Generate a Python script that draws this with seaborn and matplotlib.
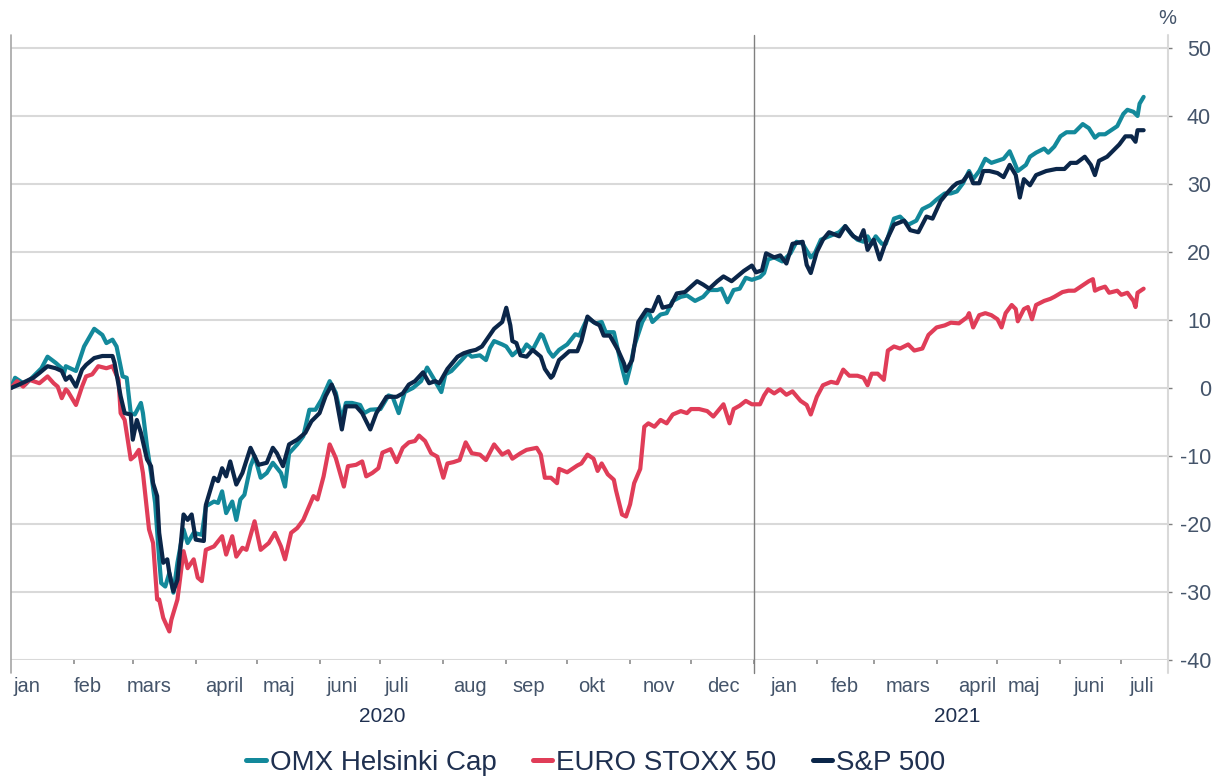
import pandas as pd
import matplotlib.pyplot as plt
from matplotlib.lines import Line2D
import seaborn as sns

# index change in %; x = days since 2020-01-01
start = pd.Timestamp("2020-01-01")

omx_days = [0, 2, 7, 11, 15, 18, 22, 25, 26, 27, 32, 36, 41, 45, 47, 50, 52, 55, 57, 59, 61, 64, 65, 67, 69, 71, 73, 74, 76, 78, 80, 82, 85, 87,
            90, 94, 96, 100, 102, 104, 106, 109, 111, 113, 115, 118, 120, 123, 126, 129, 133, 135, 137, 141, 144, 147, 150, 153, 157, 160, 163, 165, 168, 172, 174, 177,
            182, 186, 188, 191, 194, 198, 202, 205, 208, 212, 214, 217, 222, 225, 227, 231, 234, 236, 238, 242, 244, 247, 250, 252, 254, 257, 261, 262, 265, 267, 270, 274,
            278, 280, 284, 288, 291, 293, 297, 299, 301, 303, 305, 307, 311, 314, 316, 320, 323, 326, 330, 333, 337, 341, 344, 348, 350, 353, 356, 359, 362, 365,
            369, 371, 373, 376, 380, 384, 387, 390, 394, 396, 399, 403, 408, 411, 414, 417, 420, 422, 424, 426, 429, 431, 435, 438, 442, 446, 449, 453, 456, 460,
            463, 466, 469, 472, 474, 477, 480, 483, 486, 489, 492, 494, 496, 500, 502, 505, 509, 511, 514, 517, 520, 524, 528, 531, 534, 536, 539, 542, 545, 548, 550, 553, 555, 556, 558]
omx_vals = [0.0, 1.5, 0.5, 1.7, 2.9, 4.6, 3.7, 2.9, 2.0, 3.2, 2.5, 6.1, 8.7, 7.8, 6.6, 7.1, 6.1, 1.7, 1.5, -3.7, -3.9, -2.2, -3.7, -8.6, -12.5, -16.9, -25.2, -28.7, -29.2, -27.2, -30.1, -25.7, -20.8, -22.8,
            -21.3, -21.6, -17.4, -16.7, -16.9, -15.2, -18.4, -16.7, -19.4, -16.4, -15.7, -11.5, -10.0, -13.2, -12.5, -11.0, -12.5, -14.5, -9.6, -8.3, -7.1, -3.2, -3.2, -1.7, 1.0, -0.7, -4.7, -2.2, -2.2, -2.5, -3.7, -3.2,
            -3.1, -1.1, -1.3, -3.7, -0.6, 0.0, 1.0, 3.0, 1.5, -0.6, 2.0, 2.5, 4.1, 5.1, 4.6, 4.8, 4.1, 5.9, 6.9, 6.4, 6.1, 4.8, 5.6, 5.4, 6.4, 5.6, 7.9, 7.7, 5.4, 4.6, 5.6, 6.4,
            7.9, 7.7, 10.3, 9.5, 9.7, 8.2, 8.2, 5.6, 3.0, 0.7, 3.0, 6.1, 9.7, 11.3, 9.7, 10.8, 11.0, 12.8, 13.4, 13.6, 12.8, 13.4, 14.4, 14.4, 14.6, 12.6, 14.4, 14.6, 16.2, 15.9,
            16.3, 16.9, 18.9, 19.2, 18.6, 19.8, 21.5, 21.2, 19.2, 19.8, 21.8, 22.3, 22.9, 23.8, 22.6, 21.8, 21.5, 22.3, 21.2, 22.3, 21.2, 21.2, 24.9, 25.2, 24.0, 24.6, 26.3, 26.9, 27.7, 28.6,
            28.6, 28.9, 30.1, 31.9, 30.7, 31.9, 33.7, 33.1, 33.4, 33.7, 34.8, 33.4, 31.9, 32.8, 34.0, 34.6, 35.2, 34.6, 35.5, 37.0, 37.6, 37.6, 38.8, 38.2, 36.8, 37.3, 37.3, 37.9, 38.5, 40.3, 40.9, 40.6, 40.0, 41.8, 42.8]

stoxx_days = [0, 3, 6, 9, 14, 18, 21, 23, 25, 27, 28, 32, 35, 37, 40, 43, 47, 50, 53, 54, 56, 59, 61, 63, 65, 68, 70, 72, 73, 75, 78, 79, 81, 82, 85, 87, 90, 92,
              94, 96, 100, 104, 106, 109, 111, 114, 116, 120, 123, 127, 130, 133, 135, 138, 141, 144, 149, 151, 154, 157, 160, 164, 166, 170, 173, 175, 178, 181, 183, 187,
              190, 193, 196, 199, 201, 204, 207, 210, 213, 215, 218, 221, 224, 227, 231, 234, 238, 242, 245, 247, 251, 254, 259, 261, 263, 266, 269, 270, 274,
              279, 281, 284, 287, 289, 291, 294, 297, 298, 301, 303, 305, 307, 310, 312, 314, 317, 320, 323, 326, 330, 333, 335, 339, 343, 346, 351, 354, 356, 359, 362, 365,
              369, 371, 373, 376, 379, 382, 385, 389, 392, 394, 397, 400, 404, 407, 410, 413, 417, 420, 422, 424, 427, 430, 432, 435, 438, 442, 445, 449, 452, 456, 460,
              463, 467, 471, 472, 474, 477, 480, 483, 486, 488, 490, 493, 495, 496, 499, 501, 503, 505, 509, 512, 514, 518, 521, 524, 528, 531, 533, 534, 536, 539, 541, 545, 547, 550, 553, 554, 555, 558]
stoxx_vals = [0.0, 1.0, 0.2, 1.2, 0.7, 1.7, 0.7, 0.2, -1.5, -0.2, -0.5, -2.5, 0.2, 1.7, 2.0, 3.2, 2.9, 3.2, 1.2, -3.7, -4.7, -10.5, -10.0, -9.1, -12.5, -20.8, -22.8, -31.1, -31.1, -33.8, -35.8, -34.1, -32.1, -31.1, -24.0, -26.5, -25.2, -27.9,
              -28.4, -23.8, -23.3, -21.8, -24.5, -21.8, -24.8, -23.5, -23.8, -19.6, -23.8, -22.8, -21.3, -23.3, -25.2, -21.3, -20.6, -19.4, -15.9, -16.4, -13.0, -8.3, -10.3, -14.5, -11.5, -11.3, -10.8, -13.0, -12.5, -11.8, -9.5, -9.0,
              -10.9, -8.8, -8.0, -7.8, -7.0, -7.8, -9.6, -10.1, -13.2, -11.1, -10.9, -10.6, -8.0, -9.6, -9.8, -10.6, -8.3, -9.8, -9.3, -10.4, -9.6, -9.1, -8.8, -9.8, -13.2, -13.2, -14.0, -11.9, -12.4,
              -11.4, -11.1, -9.8, -10.4, -12.2, -11.1, -12.7, -13.5, -15.0, -18.6, -18.9, -17.1, -14.0, -11.9, -5.7, -5.2, -5.7, -4.7, -5.2, -3.9, -3.4, -3.7, -3.1, -3.1, -3.4, -4.2, -2.4, -5.2, -3.1, -2.6, -1.9, -2.4,
              -2.4, -1.1, -0.2, -0.8, -0.2, -1.0, -0.5, -1.9, -2.5, -3.9, -1.3, 0.4, 0.9, 0.7, 2.7, 1.8, 1.8, 1.5, 0.4, 2.1, 2.1, 1.2, 5.5, 6.1, 5.8, 6.4, 5.5, 5.8, 7.8, 8.9, 9.2,
              9.6, 9.5, 10.4, 11.0, 8.9, 10.7, 11.0, 10.7, 10.1, 8.9, 11.0, 12.2, 11.6, 9.8, 11.6, 11.9, 10.1, 12.2, 12.8, 13.1, 13.4, 14.1, 14.3, 14.3, 15.1, 15.7, 16.0, 14.3, 14.6, 14.9, 14.0, 14.3, 13.7, 14.0, 12.8, 11.9, 14.0, 14.6]

sp_days = [0, 4, 11, 14, 18, 22, 25, 27, 29, 32, 35, 37, 41, 45, 50, 51, 54, 56, 59, 60, 62, 64, 67, 69, 70, 72, 73, 75, 77, 78, 80, 82, 85, 87, 89,
           91, 95, 96, 100, 102, 104, 106, 108, 111, 114, 118, 122, 126, 129, 131, 134, 137, 141, 145, 148, 152, 155, 158, 160, 163, 165, 170, 173, 177, 180,
           185, 190, 193, 196, 199, 203, 206, 209, 211, 215, 220, 223, 226, 229, 232, 235, 238, 242, 244, 246, 247, 249, 251, 254, 257, 261, 263, 266, 267, 270, 272,
           275, 279, 281, 284, 287, 290, 292, 295, 299, 302, 303, 306, 309, 313, 316, 319, 321, 325, 328, 332, 335, 338, 341, 344, 348, 351, 355, 357, 361, 365, 367,
           370, 372, 376, 379, 382, 385, 390, 392, 394, 397, 400, 403, 408, 411, 415, 418, 420, 422, 425, 428, 431, 435, 440, 443, 447, 451, 454, 458, 461,
           464, 466, 469, 472, 474, 477, 479, 482, 486, 489, 492, 495, 497, 499, 502, 505, 510, 515, 519, 522, 525, 529, 532, 534, 536, 540, 543, 546, 549, 552, 554, 555, 558]
sp_vals = [0.0, 0.5, 1.5, 2.2, 3.2, 2.9, 2.5, 1.2, 1.7, 0.2, 2.7, 3.4, 4.4, 4.7, 4.7, 3.7, -1.2, -3.7, -3.9, -7.6, -4.7, -6.6, -10.5, -11.5, -14.0, -15.9, -21.3, -25.7, -25.2, -27.2, -29.9, -28.2, -18.6, -19.4, -18.6,
           -22.3, -22.5, -17.2, -13.2, -13.7, -11.8, -13.0, -10.8, -14.2, -12.5, -8.8, -11.3, -11.0, -8.8, -9.6, -11.5, -8.3, -7.6, -6.6, -4.9, -3.7, -1.2, 0.5, -1.2, -6.1, -2.7, -2.7, -3.7, -6.1, -3.7,
           -1.3, -1.3, -0.8, 0.5, 1.0, 2.3, 0.7, 1.0, 0.7, 2.8, 4.6, 5.1, 5.4, 5.6, 6.1, 7.4, 8.7, 9.7, 11.8, 9.2, 6.9, 6.6, 4.8, 4.6, 5.6, 4.6, 2.8, 1.5, 1.8, 4.1, 4.6,
           5.4, 5.4, 6.9, 10.5, 9.7, 9.2, 7.7, 7.7, 5.6, 3.6, 2.5, 4.1, 9.7, 11.5, 11.3, 13.4, 11.8, 12.1, 13.9, 14.1, 14.9, 15.7, 15.2, 14.6, 15.7, 16.4, 15.7, 16.2, 17.2, 18.0, 17.0,
           17.3, 19.8, 19.2, 19.5, 18.3, 21.2, 21.5, 18.1, 16.9, 20.0, 21.8, 22.9, 22.3, 23.8, 22.3, 21.8, 23.2, 20.3, 21.8, 18.9, 21.5, 24.0, 24.6, 23.2, 22.9, 25.2, 24.9, 27.5, 28.6,
           29.6, 30.1, 30.4, 31.6, 30.1, 30.1, 31.9, 31.9, 31.6, 31.0, 32.8, 31.3, 28.0, 30.7, 29.8, 31.3, 31.9, 32.2, 32.2, 33.1, 33.1, 34.0, 32.8, 31.3, 33.4, 34.0, 34.9, 35.8, 37.0, 37.0, 36.2, 37.9, 37.9]

series_names = ["OMX Helsinki Cap", "EURO STOXX 50", "S&P 500"]
series_colors = ["#13899b", "#e03d58", "#0b2649"]

month_labels = ["jan", "feb", "mars", "april", "maj", "juni", "juli", "aug", "sep", "okt", "nov", "dec",
                "jan", "feb", "mars", "april", "maj", "juni", "juli"]
month_label_dates = ["2020-01-09", "2020-02-08", "2020-03-09", "2020-04-15", "2020-05-12", "2020-06-12",
                     "2020-07-09", "2020-08-14", "2020-09-12", "2020-10-13", "2020-11-15", "2020-12-17",
                     "2021-01-16", "2021-02-15", "2021-03-18", "2021-04-21", "2021-05-14", "2021-06-15", "2021-07-11"]
year_labels = ["2020", "2021"]
year_label_dates = ["2020-07-02", "2021-04-11"]

frames = []
for name, days, vals in zip(series_names, [omx_days, stoxx_days, sp_days], [omx_vals, stoxx_vals, sp_vals]):
    frames.append(pd.DataFrame({"date": start + pd.to_timedelta(days, unit="D"),
                                "value": vals, "series": name}))
df = pd.concat(frames, ignore_index=True)

sns.set_theme(style="white")
plt.rcParams["font.family"] = ["Liberation Sans", "DejaVu Sans"]
plt.rcParams["axes.unicode_minus"] = False

tick_color = "#44546a"
text_color = "#1f3050"

W, H = 1213, 777
fig = plt.figure(figsize=(W / 100, H / 100), dpi=100)
ax = fig.add_axes([11 / W, 1 - 660 / H, (1168 - 11) / W, (660 - 35) / H])

sns.lineplot(data=df, x="date", y="value", hue="series", hue_order=series_names,
             palette=dict(zip(series_names, series_colors)), linewidth=3.0,
             legend=False, ax=ax)

x_end = pd.Timestamp("2021-07-24")
ax.set_xlim(start, x_end)
ax.set_ylim(-40, 51.9)
ax.set_yticks(range(-40, 51, 10))
ax.set_xlabel("")
ax.set_ylabel("")

for s in ax.spines.values():
    s.set_visible(False)

ax.grid(axis="y", color="#d9d9d9", linewidth=1.5)
ax.grid(axis="x", visible=False)
ax.set_axisbelow(True)

# vertical frame lines
ax.axvline(start, color="#a6a6a6", lw=1.2, ymin=-0.02, ymax=1, clip_on=False, zorder=1)
ax.axvline(pd.Timestamp("2021-01-01"), color="#808080", lw=1.0, ymin=-0.02, ymax=1, clip_on=False, zorder=1)
ax.axvline(x_end, color="#d9d9d9", lw=1.5, ymin=-0.02, ymax=1, clip_on=False, zorder=1)

# right y axis
ax.yaxis.tick_right()
ax.tick_params(axis="y", which="major", right=True, left=False, length=3, width=1,
               color="#7f7f7f", pad=28, labelsize=15.5, labelcolor=tick_color)
for lbl in ax.get_yticklabels():
    lbl.set_horizontalalignment("right")

# x axis: month labels mid-month, tick marks at month starts
ax.set_xticks(pd.to_datetime(month_label_dates))
ax.set_xticklabels(month_labels)
ax.set_xticks(pd.date_range("2020-02-01", "2021-07-01", freq="MS"), minor=True)
ax.tick_params(axis="x", which="major", length=0, pad=12, labelsize=14.5, labelcolor=tick_color)
ax.tick_params(axis="x", which="minor", bottom=True, length=3, width=1.2, color="#8c8c8c")

for lbl, d in zip(year_labels, year_label_dates):
    ax.text(pd.Timestamp(d), -0.09, lbl, transform=ax.get_xaxis_transform(),
            ha="center", va="center", fontsize=15, color=text_color)

fig.text(1167 / W, 1 - 18.5 / H, "%", ha="center", va="center", fontsize=14.5, color=tick_color)

handles = [Line2D([0], [0], color=c, lw=3.6) for c in series_colors]
fig.legend(handles, series_names, loc="center", bbox_to_anchor=(596 / W, 1 - 763 / H),
           ncol=3, frameon=False, fontsize=20, handlelength=0.7, handletextpad=0.15,
           columnspacing=1.3, labelcolor=text_color)

fig.savefig("out.png", dpi=100)
